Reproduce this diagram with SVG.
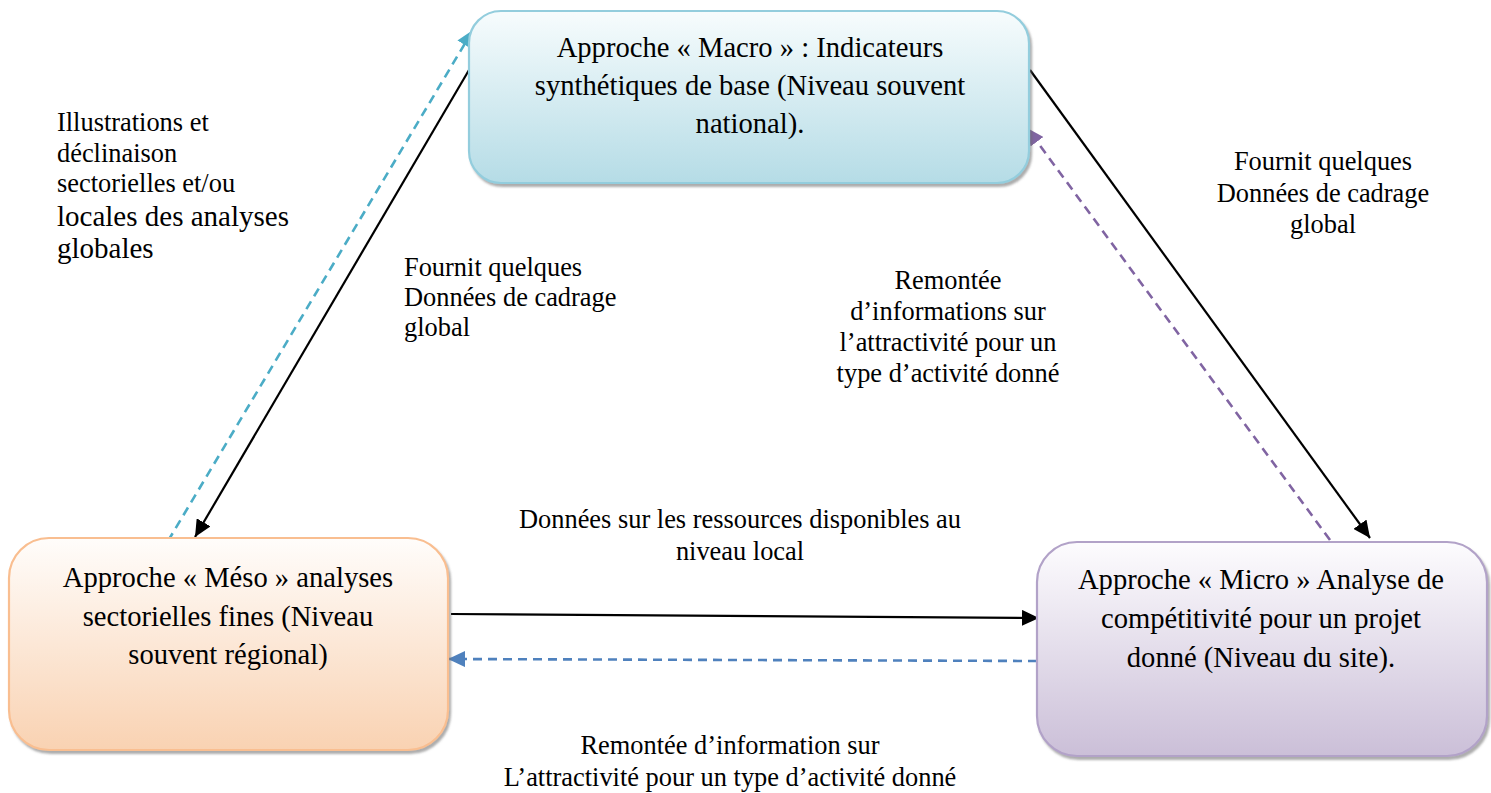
<svg xmlns="http://www.w3.org/2000/svg" width="1491" height="793" viewBox="0 0 1491 793" font-family="'Times New Roman', 'Liberation Serif', serif">
  <style>
    .box-text { font-size: 28.6px; text-anchor: middle; fill: #000; }
    .lbl { font-size: 26.4px; fill: #000; }
    .lbl-big { font-size: 29px; }
    .mid { text-anchor: middle; }
    .solid { stroke: #000; stroke-width: 2.2; fill: none; }
    .dash { stroke-width: 2.6; fill: none; stroke-dasharray: 9 6; }
  </style>
  <defs>
    <linearGradient id="gMacro" x1="0" y1="0" x2="0" y2="1">
      <stop offset="0" stop-color="#f7fcfd"/>
      <stop offset="1" stop-color="#b5dce6"/>
    </linearGradient>
    <linearGradient id="gMeso" x1="0" y1="0" x2="0" y2="1">
      <stop offset="0" stop-color="#fffdfb"/>
      <stop offset="1" stop-color="#f9d2b2"/>
    </linearGradient>
    <linearGradient id="gMicro" x1="0" y1="0" x2="0" y2="1">
      <stop offset="0" stop-color="#fdfcfe"/>
      <stop offset="1" stop-color="#cbbfd8"/>
    </linearGradient>
    <filter id="shadow" x="-5%" y="-5%" width="112%" height="115%">
      <feDropShadow dx="2" dy="3" stdDeviation="1" flood-color="#6b6b6b" flood-opacity="0.55"/>
    </filter>
    <marker id="arBlack" markerUnits="userSpaceOnUse" markerWidth="18" markerHeight="16" refX="17" refY="8" orient="auto">
      <path d="M0,0 L17,8 L0,16 z" fill="#000"/>
    </marker>
    <marker id="arCyan" markerUnits="userSpaceOnUse" markerWidth="18" markerHeight="16" refX="17" refY="8" orient="auto">
      <path d="M0,0 L17,8 L0,16 z" fill="#4bacc6"/>
    </marker>
    <marker id="arPurple" markerUnits="userSpaceOnUse" markerWidth="18" markerHeight="16" refX="17" refY="8" orient="auto">
      <path d="M0,0 L17,8 L0,16 z" fill="#8064a2"/>
    </marker>
    <marker id="arBlue" markerUnits="userSpaceOnUse" markerWidth="18" markerHeight="16" refX="17" refY="8" orient="auto">
      <path d="M0,0 L17,8 L0,16 z" fill="#4f81bd"/>
    </marker>
  </defs>

  <!-- Connectors -->
  <g id="connectors">
    <line class="solid" x1="469" y1="70" x2="195" y2="537" marker-end="url(#arBlack)"/>
    <line class="dash" stroke="#4bacc6" x1="168" y1="541" x2="473" y2="30" marker-end="url(#arCyan)"/>
    <line class="solid" x1="1030" y1="70" x2="1370" y2="538" marker-end="url(#arBlack)"/>
    <line class="dash" stroke="#8064a2" x1="1330" y1="540" x2="1027" y2="128" marker-end="url(#arPurple)"/>
    <line class="solid" x1="451" y1="614" x2="1039" y2="618" marker-end="url(#arBlack)"/>
    <line class="dash" stroke="#4f81bd" x1="1037" y1="661" x2="448" y2="659" marker-end="url(#arBlue)"/>
  </g>

  <!-- Macro level -->
  <g id="node-macro">
    <rect x="469" y="11" width="560" height="172" rx="32" ry="32" fill="url(#gMacro)" stroke="#93cddd" stroke-width="2.2" filter="url(#shadow)"/>
    <text class="box-text" x="750" y="57">Approche « Macro » : Indicateurs</text>
    <text class="box-text" x="750" y="95">synthétiques de base (Niveau souvent</text>
    <text class="box-text" x="750" y="133">national).</text>
  </g>

  <!-- Meso level -->
  <g id="node-meso">
    <rect x="9" y="538" width="439" height="212" rx="40" ry="40" fill="url(#gMeso)" stroke="#f9be90" stroke-width="2.2" filter="url(#shadow)"/>
    <text class="box-text" x="228" y="587">Approche « Méso » analyses</text>
    <text class="box-text" x="228" y="626">sectorielles fines (Niveau</text>
    <text class="box-text" x="228" y="664">souvent régional)</text>
  </g>

  <!-- Micro level -->
  <g id="node-micro">
    <rect x="1037" y="542" width="450" height="214" rx="40" ry="40" fill="url(#gMicro)" stroke="#b2a2c8" stroke-width="2.2" filter="url(#shadow)"/>
    <text class="box-text" x="1261" y="589">Approche « Micro » Analyse de</text>
    <text class="box-text" x="1261" y="628">compétitivité pour un projet</text>
    <text class="box-text" x="1261" y="667">donné (Niveau du site).</text>
  </g>

  <!-- Connector labels -->
  <g id="labels">
    <text class="lbl" x="57" y="131">Illustrations et</text>
    <text class="lbl" x="57" y="162">déclinaison</text>
    <text class="lbl" x="57" y="192">sectorielles et/ou</text>
    <text class="lbl lbl-big" x="57" y="226">locales des analyses</text>
    <text class="lbl lbl-big" x="57" y="258">globales</text>

    <text class="lbl" x="404" y="276">Fournit quelques</text>
    <text class="lbl" x="404" y="306">Données de cadrage</text>
    <text class="lbl" x="404" y="336">global</text>

    <text class="lbl mid" x="1323" y="170">Fournit quelques</text>
    <text class="lbl mid" x="1323" y="202">Données de cadrage</text>
    <text class="lbl mid" x="1323" y="233">global</text>

    <text class="lbl mid" x="948" y="289">Remontée</text>
    <text class="lbl mid" x="948" y="320">d’informations sur</text>
    <text class="lbl mid" x="948" y="351">l’attractivité pour un</text>
    <text class="lbl mid" x="948" y="382">type d’activité donné</text>

    <text class="lbl mid" x="740" y="528">Données sur les ressources disponibles au</text>
    <text class="lbl mid" x="740" y="560">niveau local</text>

    <text class="lbl mid" x="730" y="754">Remontée d’information sur</text>
    <text class="lbl mid" x="730" y="786">L’attractivité pour un type d’activité donné</text>
  </g>
</svg>
